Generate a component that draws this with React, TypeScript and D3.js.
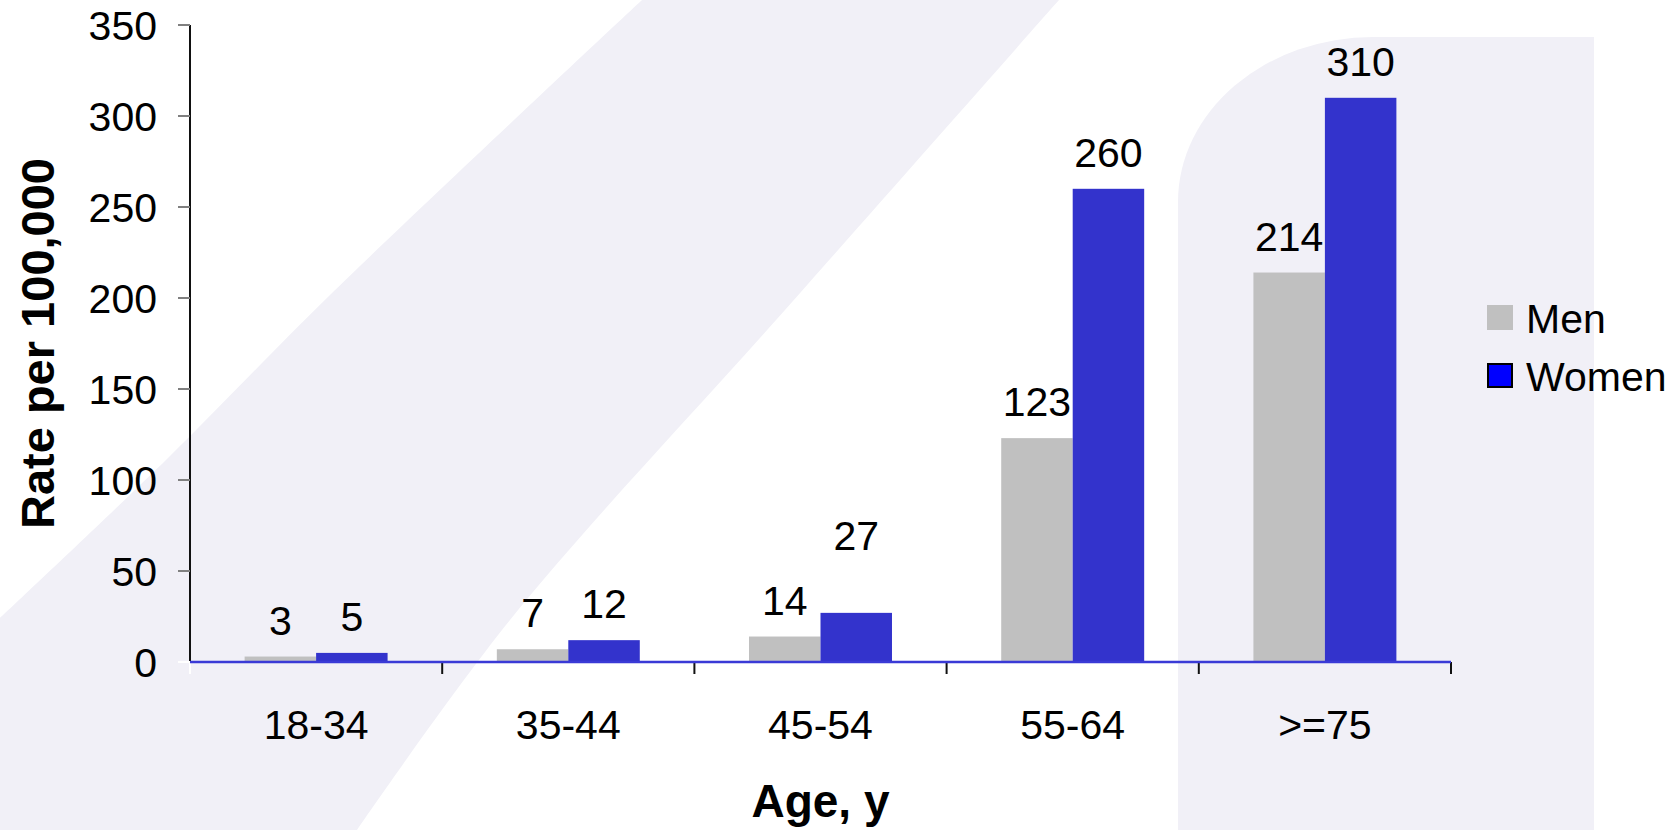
import React, { useEffect, useRef } from 'react';
import * as d3 from "d3";

// chart data
const ageGroups = ["18-34", "35-44", "45-54", "55-64", ">=75"];
const seriesNames = ["Men", "Women"];
const menRates = [3, 7, 14, 123, 214];
const womenRates = [5, 12, 27, 260, 310];
const yTicks = [0, 50, 100, 150, 200, 250, 300, 350];

const WIDTH = 1674, HEIGHT = 830;
const FONT = "'Liberation Sans', Arial, Helvetica, sans-serif";

function App() {
  const ref = useRef<SVGSVGElement | null>(null);

  useEffect(() => {
    if (ref.current == null) return;
    const svg = d3.select(ref.current);
    svg.selectAll("*").remove();

    const margin = { left: 190, right: 223, top: 25, bottom: 168 };
    const plotRight = WIDTH - margin.right;
    const plotBottom = HEIGHT - margin.bottom;

    // background decoration (light lavender band + rounded panel)
    const bg = "#f1f0f7";
    const edgeLine = d3.line().curve(d3.curveCatmullRom);
    const rightPath = edgeLine([[1059, 0], [785, 310], [510, 620], [357, 830]]) as string;
    const leftPath = edgeLine([[0, 618], [168, 458], [330, 295], [642, 0]]) as string;
    svg.append("path")
      .attr("fill", bg)
      .attr("d", rightPath + " L0,830 " + leftPath.replace(/^M/, "L") + " Z");

    svg.append("path")
      .attr("fill", bg)
      .attr("d", "M1178,830 L1178,202 A195,165 0 0 1 1373,37 L1594,37 L1594,830 Z");

    // scales
    const x = d3.scaleBand<string>().domain(ageGroups).range([margin.left, plotRight]).padding(0);
    const xSub = d3.scaleBand<string>().domain(seriesNames).range([0, x.bandwidth()])
      .paddingInner(0).paddingOuter(0.764);
    const y = d3.scaleLinear().domain([0, 350]).range([plotBottom, margin.top]);

    const colors: { [k: string]: string } = { Men: "#c0c0c0", Women: "#3333cc" };
    const values: { [k: string]: number[] } = { Men: menRates, Women: womenRates };
    // women's 45-54 label sits higher in the original
    const labelLift: { [k: string]: number[] } = { Men: [0, 0, 0, 0, 0], Women: [0, 0, 41, 0, 0] };

    // bars
    seriesNames.forEach(function (s) {
      svg.append("g")
        .selectAll("rect")
        .data(values[s])
        .enter()
        .append("rect")
        .attr("x", (d, i) => (x(ageGroups[i]) as number) + (xSub(s) as number))
        .attr("y", d => y(d))
        .attr("width", xSub.bandwidth())
        .attr("height", d => y(0) - y(d))
        .attr("fill", colors[s]);
    });

    // data labels
    seriesNames.forEach(function (s) {
      svg.append("g")
        .selectAll("text")
        .data(values[s])
        .enter()
        .append("text")
        .attr("x", (d, i) => (x(ageGroups[i]) as number) + (xSub(s) as number) + xSub.bandwidth() / 2)
        .attr("y", (d, i) => y(d) - 22 - labelLift[s][i])
        .attr("text-anchor", "middle")
        .attr("font-family", FONT)
        .attr("font-size", 41)
        .attr("fill", "#000")
        .text(d => d);
    });

    // y axis
    const yAxis = svg.append("g");
    yAxis.append("line")
      .attr("x1", margin.left).attr("x2", margin.left)
      .attr("y1", y(350)).attr("y2", y(0))
      .attr("stroke", "#111").attr("stroke-width", 2);
    yAxis.selectAll(".tick")
      .data(yTicks)
      .enter()
      .append("line")
      .attr("x1", margin.left - 12).attr("x2", margin.left)
      .attr("y1", d => y(d)).attr("y2", d => y(d))
      .attr("stroke", d => d === 0 ? "#fff" : "#808080")
      .attr("stroke-width", 2);
    yAxis.selectAll("text")
      .data(yTicks)
      .enter()
      .append("text")
      .attr("x", margin.left - 33)
      .attr("y", d => y(d) + 15)
      .attr("text-anchor", "end")
      .attr("font-family", FONT)
      .attr("font-size", 41)
      .attr("fill", "#000")
      .text(d => d);

    // x axis
    const xAxis = svg.append("g");
    const boundaries = ageGroups.map(g => x(g) as number).concat([plotRight]);
    xAxis.selectAll("line.tick")
      .data(boundaries)
      .enter()
      .append("line")
      .attr("x1", d => d).attr("x2", d => d)
      .attr("y1", y(0)).attr("y2", y(0) + 12)
      .attr("stroke", (d, i) => i === 0 ? "#fff" : "#111")
      .attr("stroke-width", 2);
    xAxis.append("line")
      .attr("x1", margin.left).attr("x2", plotRight)
      .attr("y1", y(0)).attr("y2", y(0))
      .attr("stroke", "#3a3ad6").attr("stroke-width", 2.5);
    xAxis.selectAll("text")
      .data(ageGroups)
      .enter()
      .append("text")
      .attr("x", d => (x(d) as number) + x.bandwidth() / 2)
      .attr("y", 739)
      .attr("text-anchor", "middle")
      .attr("font-family", FONT)
      .attr("font-size", 41)
      .attr("fill", "#000")
      .text(d => d);

    // axis titles
    svg.append("text")
      .attr("x", (margin.left + plotRight) / 2)
      .attr("y", 817)
      .attr("text-anchor", "middle")
      .attr("font-family", FONT)
      .attr("font-weight", "bold")
      .attr("font-size", 46)
      .attr("fill", "#000")
      .text("Age, y");
    svg.append("text")
      .attr("transform", "translate(54," + ((margin.top + plotBottom) / 2) + ") rotate(-90)")
      .attr("text-anchor", "middle")
      .attr("font-family", FONT)
      .attr("font-weight", "bold")
      .attr("font-size", 47)
      .attr("fill", "#000")
      .text("Rate per 100,000");

    // legend
    const legend = svg.append("g").attr("transform", "translate(1487,305)");
    seriesNames.forEach(function (s, i) {
      const row = legend.append("g").attr("transform", "translate(0," + (i * 58) + ")");
      row.append("rect")
        .attr("x", s === "Women" ? 1 : 0).attr("y", s === "Women" ? 1 : 0)
        .attr("width", s === "Women" ? 24 : 26).attr("height", s === "Women" ? 23 : 25)
        .attr("fill", s === "Women" ? "#0000ff" : colors[s])
        .attr("stroke", s === "Women" ? "#000" : "none")
        .attr("stroke-width", 2);
      row.append("text")
        .attr("x", 39)
        .attr("y", 28)
        .attr("font-family", FONT)
        .attr("font-size", 41)
        .attr("fill", "#000")
        .text(s);
    });
  }, []);

  return (
    <svg ref={ref} width={WIDTH} height={HEIGHT}
      style={{ position: "absolute", left: 0, top: 0, background: "#fff" }} />
  );
}

export default App;
